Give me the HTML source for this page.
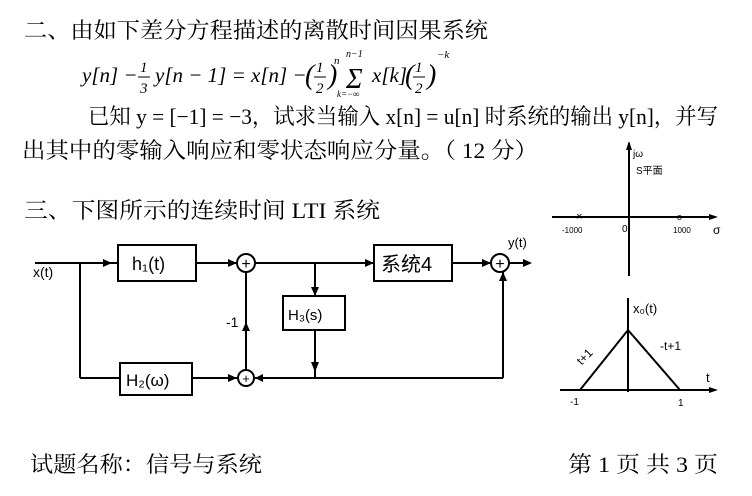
<!DOCTYPE html>
<html><head><meta charset="utf-8"><style>
body{margin:0;background:#fff;width:752px;height:496px;overflow:hidden}
svg{display:block}
.c{font-family:"Liberation Serif","Noto Serif CJK SC",serif;font-size:22px;fill:#000}
.h{font-family:"Liberation Sans","WenQuanYi Zen Hei",sans-serif;fill:#000}
</style></head><body>
<svg width="752" height="496" viewBox="0 0 752 496">
<text class="c" x="24" y="38" textLength="464" lengthAdjust="spacingAndGlyphs">二、由如下差分方程描述的离散时间因果系统</text>
<g class="c" style="font-style:italic;font-size:21px">
<text x="82" y="82">y[n] −</text>
<text x="140" y="72" font-size="15">1</text><line x1="138" y1="77" x2="150" y2="77" stroke="#000"/>
<text x="140" y="93" font-size="15">3</text>
<text x="155" y="82">y[n − 1] = x[n] −</text>
<text x="305" y="84" font-size="28">(</text><text x="316" y="72" font-size="15">1</text><line x1="314" y1="77" x2="326" y2="77" stroke="#000"/><text x="316" y="93" font-size="15">2</text><text x="328" y="84" font-size="28">)</text>
<text x="334" y="64" font-size="11">n</text>
<text x="346" y="88" font-size="28">Σ</text>
<text x="337" y="97" font-size="9">k=−∞</text>
<text x="346" y="57" font-size="10">n−1</text>
<text x="372" y="82">x[k]</text>
<text x="405" y="84" font-size="28">(</text><text x="415" y="72" font-size="15">1</text><line x1="413" y1="77" x2="425" y2="77" stroke="#000"/><text x="415" y="93" font-size="15">2</text><text x="427" y="84" font-size="28">)</text>
<text x="437" y="58" font-size="11">−k</text>
</g>
<text class="c" x="88" y="124" textLength="630" lengthAdjust="spacingAndGlyphs">已知 y = [−1] = −3，试求当输入 x[n] = u[n] 时系统的输出 y[n]，并写</text>
<text class="c" x="22" y="158" textLength="516" lengthAdjust="spacingAndGlyphs">出其中的零输入响应和零状态响应分量。（ 12 分）</text>
<text class="c" x="24" y="218" textLength="356" lengthAdjust="spacingAndGlyphs">三、下图所示的连续时间 LTI 系统</text>
<text class="c" x="30" y="472" textLength="232" lengthAdjust="spacingAndGlyphs">试题名称：信号与系统</text>
<text class="c" x="568" y="472" textLength="150" lengthAdjust="spacingAndGlyphs">第 1 页  共 3 页</text>

<g stroke="#000" stroke-width="2" fill="none">
<line x1="35" y1="263" x2="118" y2="263"/>
<rect x="118" y="245" width="78" height="36"/>
<line x1="196" y1="263" x2="237" y2="263"/>
<circle cx="246" cy="263" r="9"/>
<line x1="255" y1="263" x2="374" y2="263"/>
<rect x="374" y="245" width="78" height="36"/>
<line x1="452" y1="263" x2="491" y2="263"/>
<circle cx="500" cy="263" r="9"/>
<line x1="509" y1="263" x2="528" y2="263"/>
<line x1="80" y1="263" x2="80" y2="378"/>
<line x1="80" y1="378" x2="120" y2="378"/>
<rect x="120" y="363" width="72" height="32"/>
<line x1="192" y1="378" x2="237" y2="378"/>
<circle cx="246" cy="378" r="8"/>
<line x1="246" y1="370" x2="246" y2="272"/>
<line x1="254" y1="378" x2="503" y2="378"/>
<line x1="503" y1="378" x2="503" y2="272"/>
<line x1="315" y1="263" x2="315" y2="296"/>
<rect x="283" y="296" width="62" height="34"/>
<line x1="315" y1="330" x2="315" y2="378"/>
<line x1="629" y1="143" x2="629" y2="276"/>
<line x1="552" y1="217" x2="715" y2="217"/>
<line x1="628" y1="298" x2="628" y2="392"/>
<line x1="560" y1="390" x2="715" y2="390"/>
<polyline points="580,390 628,330 680,390"/>
</g>
<g fill="#000">
<polygon points="112,263 103,259 103,267"/>
<polygon points="237,263 228,259 228,267"/>
<polygon points="374,263 365,259 365,267"/>
<polygon points="491,263 482,259 482,267"/>
<polygon points="532,263 523,259 523,267"/>
<polygon points="237,378 228,374 228,382"/>
<polygon points="255,378 263,374 263,382"/>
<polygon points="246,322 242,331 250,331"/>
<polygon points="315,296 311,287 319,287"/>
<polygon points="315,372 311,362 319,362"/>
<polygon points="503,272 499,281 507,281"/>
<polygon points="629,141 626,150 632,150"/>
<polygon points="718,217 709,214 709,220"/>
<polygon points="718,390 709,387 709,393"/>
</g>
<g class="h">
<text x="246" y="269" font-size="16" text-anchor="middle">+</text>
<text x="500" y="269" font-size="16" text-anchor="middle">+</text>
<text x="246" y="383" font-size="13" text-anchor="middle">+</text>
<text x="132" y="270" font-size="18">h₁(t)</text>
<text x="381" y="271" font-size="20">系统4</text>
<text x="126" y="386" font-size="17">H₂(ω)</text>
<text x="288" y="320" font-size="15">H₃(s)</text>
<text x="33" y="277" font-size="14">x(t)</text>
<text x="508" y="247" font-size="13">y(t)</text>
<text x="226" y="327" font-size="14">-1</text>
<text x="633" y="157" font-size="10">jω</text>
<text x="636" y="174" font-size="10">S平面</text>
<text x="576" y="220" font-size="11">×</text>
<text x="677" y="220" font-size="9">o</text>
<text x="562" y="233" font-size="8">-1000</text>
<text x="622" y="232" font-size="10">0</text>
<text x="673" y="233" font-size="8">1000</text>
<text x="713" y="234" font-size="12">σ</text>
<text x="633" y="313" font-size="13">x₀(t)</text>
<text x="575" y="360" font-size="12" transform="rotate(-45 585 355)">t+1</text>
<text x="660" y="350" font-size="12">-t+1</text>
<text x="706" y="382" font-size="13">t</text>
<text x="570" y="405" font-size="10">-1</text>
<text x="678" y="406" font-size="10">1</text>
</g>
</svg>
</body></html>
